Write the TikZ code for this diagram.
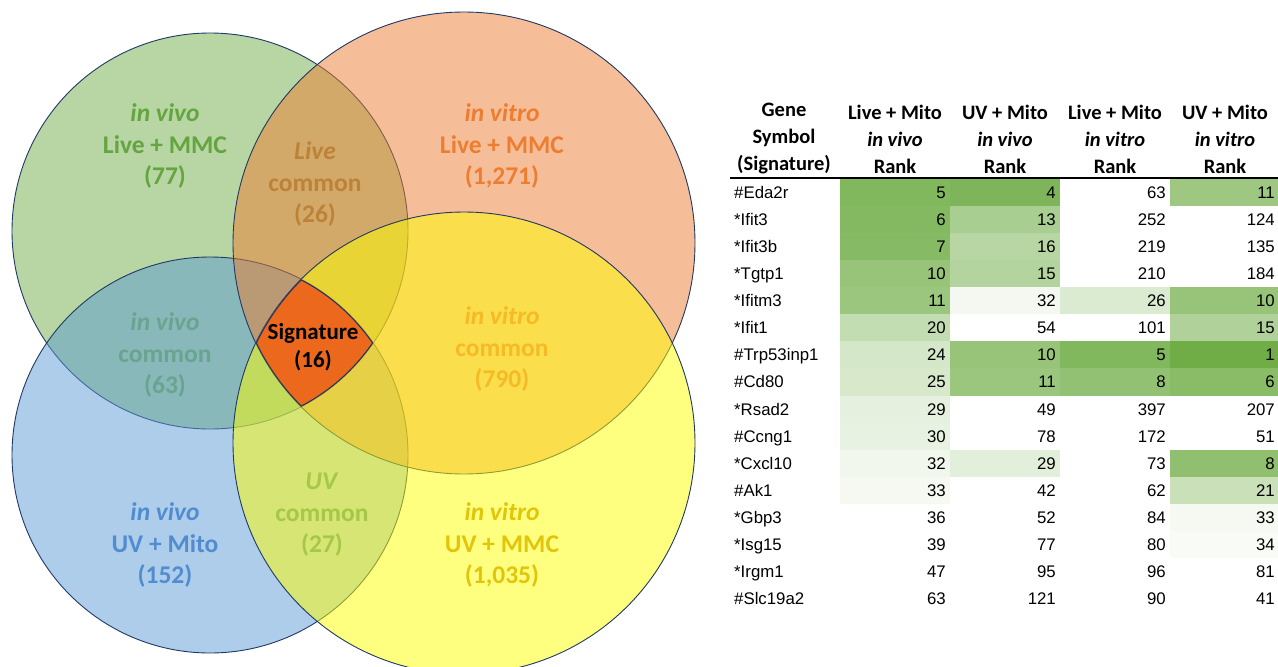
\documentclass[tikz,border=0pt]{standalone}
\usepackage{fontspec}
\setmainfont{Liberation Sans}[Ligatures=NoCommon]
\newfontfamily\calibri{Carlito}

% 颜色
\definecolor{ogreen}{RGB}{112,173,71}
\definecolor{oblue}{RGB}{91,155,213}
\definecolor{oorange}{RGB}{237,125,49}
\definecolor{oyellow}{RGB}{255,255,0}
\definecolor{vennline}{RGB}{31,56,100}
\definecolor{sigfill}{RGB}{236,104,28}
\definecolor{tgreen}{RGB}{100,165,65}
\definecolor{tlive}{RGB}{188,130,55}
\definecolor{tvivo}{RGB}{104,164,142}
\definecolor{tvitro}{RGB}{246,186,38}
\definecolor{tuv}{RGB}{165,200,70}
\definecolor{tblue}{RGB}{82,140,208}
\definecolor{tyellow}{RGB}{226,196,10}
\definecolor{hm}{RGB}{112,173,71}

\tikzset{
  venn/.style={draw=vennline, line width=0.9pt, fill opacity=0.5},
  vlabel/.style={font=\calibri\bfseries\fontsize{25.5}{31.5}\selectfont, align=center, inner sep=0pt},
  head/.style={font=\calibri\bfseries\fontsize{20.5}{27}\selectfont, align=center, inner sep=0pt},
  cell/.style={font=\fontsize{16.8}{20}\selectfont, inner sep=0pt}
}

\begin{document}
\begin{tikzpicture}[x=1pt,y=-1pt]
    \useasboundingbox (0,0) rectangle (1278,667);

    % 圆心
    \coordinate (G) at (210,231);
    \coordinate (B) at (210,455);
    \coordinate (O) at (464,243);
    \coordinate (Y) at (464,443);

    % 绘制四个圆
    \draw[venn, fill=ogreen] (G) circle[radius=198pt];
    \draw[venn, fill=oblue] (B) circle[radius=198pt];
    \draw[venn, fill=oorange] (O) circle[radius=231pt];
    \draw[venn, fill=oyellow] (Y) circle[radius=231pt];

    % 绘制交集 Signature
    \begin{scope}
        \clip (G) circle[radius=198pt];
        \clip (B) circle[radius=198pt];
        \clip (O) circle[radius=231pt];
        \clip (Y) circle[radius=231pt];
        \fill[sigfill] (0,0) rectangle (700,667);
        \draw[vennline, line width=2.2pt] (G) circle[radius=198pt] (B) circle[radius=198pt]
            (O) circle[radius=231pt] (Y) circle[radius=231pt];
    \end{scope}

    % 标签
    \node[vlabel, text=tgreen] (vivoLive) at (165,146) {\textit{in vivo}\\Live + MMC\\(77)};
    \node[vlabel, text=tlive] (liveCommon) at (315,184) {\textit{Live}\\common\\(26)};
    \node[vlabel, text=oorange] (vitroLive) at (502,146) {\textit{in vitro}\\Live + MMC\\(1,271)};
    \node[vlabel, text=tvivo] (vivoCommon) at (165,355) {\textit{in vivo}\\common\\(63)};
    \node[vlabel, text=tvitro] (vitroCommon) at (502,349) {\textit{in vitro}\\common\\(790)};
    \node[vlabel, text=tuv] (uvCommon) at (322,515) {\textit{UV}\\common\\(27)};
    \node[vlabel, text=tblue] (vivoUV) at (165,545) {\textit{in vivo}\\UV + Mito\\(152)};
    \node[vlabel, text=tyellow] (vitroUV) at (502,545) {\textit{in vitro}\\UV + MMC\\(1,035)};
    \node[vlabel, text=black, font=\calibri\bfseries\fontsize{23}{28}\selectfont] (sig) at (313,347) {Signature\\(16)};

    % 表头
    \node[head] (hGene) at (784,139) {Gene\\Symbol\\(Signature)};
    \node[head] (hA) at (895,139) {Live + Mito\\\textit{in vivo}\\Rank};
    \node[head] (hB) at (1005,139) {UV + Mito\\\textit{in vivo}\\Rank};
    \node[head] (hC) at (1115,139) {Live + Mito\\\textit{in vitro}\\Rank};
    \node[head] (hD) at (1225,139) {UV + Mito\\\textit{in vitro}\\Rank};
    \draw[line width=2pt] (730,178) -- (1278,178);

    % 表格行
    \foreach \g/\a/\pa/\b/\pb/\c/\pc/\d/\pd [count=\i from 0] in {
        \#Eda2r/5/88/4/90/63/0/11/68,
        *Ifit3/6/86/13/60/252/0/124/0,
        *Ifit3b/7/84/16/50/219/0/135/0,
        *Tgtp1/10/72/15/53/210/0/184/0,
        *Ifitm3/11/70/32/8/26/25/10/72,
        *Ifit1/20/42/54/0/101/0/15/55,
        \#Trp53inp1/24/30/10/72/5/88/1/100,
        \#Cd80/25/28/11/70/8/76/6/82,
        *Rsad2/29/18/49/0/397/0/207/0,
        \#Ccng1/30/16/78/0/172/0/51/0,
        *Cxcl10/32/10/29/20/73/0/8/78,
        \#Ak1/33/7/42/0/62/0/21/38,
        *Gbp3/36/0/52/0/84/0/33/7,
        *Isg15/39/0/77/0/80/0/34/5,
        *Irgm1/47/0/95/0/96/0/81/0,
        \#Slc19a2/63/0/121/0/90/0/41/0} {
        \pgfmathsetmacro\yt{179+27.07*\i}
        \pgfmathsetmacro\yb{198.5+27.07*\i}
        \fill[hm!\pa!white] (840,\yt) rectangle ++(110,27.07);
        \fill[hm!\pb!white] (950,\yt) rectangle ++(110,27.07);
        \fill[hm!\pc!white] (1060,\yt) rectangle ++(110,27.07);
        \fill[hm!\pd!white] (1170,\yt) rectangle ++(110,27.07);
        \node[cell, anchor=base west] (g\i) at (734,\yb) {\g};
        \node[cell, anchor=base east] (a\i) at (946,\yb) {\a};
        \node[cell, anchor=base east] (b\i) at (1056,\yb) {\b};
        \node[cell, anchor=base east] (c\i) at (1166,\yb) {\c};
        \node[cell, anchor=base east] (d\i) at (1275,\yb) {\d};
    }
\end{tikzpicture}
\end{document}
